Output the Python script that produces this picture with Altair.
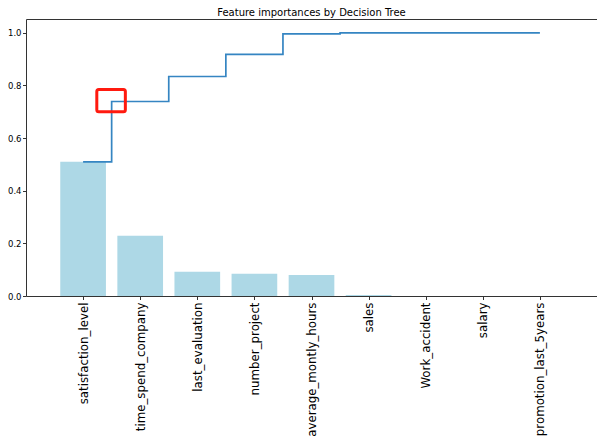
import json
import altair as alt
import pandas as pd

title_text = "Feature importances by Decision Tree"
features = [
    "satisfaction_level",
    "time_spend_company",
    "last_evaluation",
    "number_project",
    "average_montly_hours",
    "sales",
    "Work_accident",
    "salary",
    "promotion_last_5years",
]
importances = [0.510, 0.229, 0.092, 0.085, 0.080, 0.004, 0.0, 0.0, 0.0]
cumulative = [0.510, 0.739, 0.834, 0.918, 0.996, 1.000, 1.000, 1.000, 1.000]
positions = list(range(len(features)))
y_ticks = [0.0, 0.2, 0.4, 0.6, 0.8, 1.0]

# highlighted region (data coordinates) of the red box annotation
box_x = [0.24]
box_x2 = [0.74]
box_y = [0.70]
box_y2 = [0.785]

df = pd.DataFrame({
    "pos": positions,
    "feature": features,
    "importance": importances,
    "cumulative": cumulative,
})
box_df = pd.DataFrame({"x": box_x, "x2": box_x2, "y": box_y, "y2": box_y2})
title_df = pd.DataFrame({"t": [title_text]})

W = 571
H = 277

x_scale = alt.Scale(domain=[-1, 9], nice=False, zero=False)
y_scale = alt.Scale(domain=[0, 1.0525], nice=False, zero=False)

x_axis = alt.Axis(
    values=positions,
    labelExpr=f"{json.dumps(features)}[datum.value]",
    labelAngle=-90,
    labelFontSize=11.8,
    labelFont="DejaVu Sans",
    labelColor="#000",
    tickColor="#333",
    tickSize=3.5,
    labelPadding=2.5,
    labelOverlap=False,
    labelFlush=False,
    labelBound=False,
    grid=False,
    domain=False,
    title=None,
)
y_axis = alt.Axis(
    values=y_ticks,
    format=".1f",
    labelFontSize=8.5,
    labelFont="DejaVu Sans",
    labelColor="#000",
    tickColor="#333",
    tickSize=3.5,
    labelPadding=1.5,
    labelOverlap=False,
    labelFlush=False,
    labelBound=False,
    grid=False,
    domain=False,
    title=None,
)

bars = alt.Chart(df).transform_calculate(
    x0="datum.pos - 0.4", x1="datum.pos + 0.4"
).mark_bar(color="#add8e6").encode(
    x=alt.X("x0:Q", scale=x_scale, axis=x_axis),
    x2="x1:Q",
    y=alt.Y("importance:Q", scale=y_scale, axis=y_axis),
    y2=alt.datum(0),
)

line = alt.Chart(df).mark_line(
    interpolate="step", color="#3585c2", strokeWidth=1.7
).encode(
    x=alt.X("pos:Q", scale=x_scale),
    y=alt.Y("cumulative:Q", scale=y_scale),
)

box = alt.Chart(box_df).mark_rect(
    filled=False, stroke="#ff1a0f", strokeWidth=3, cornerRadius=2
).encode(
    x=alt.X("x:Q", scale=x_scale),
    x2="x2:Q",
    y=alt.Y("y:Q", scale=y_scale),
    y2="y2:Q",
)

title = alt.Chart(title_df).mark_text(
    font="DejaVu Sans", fontSize=10, color="#000", align="center", baseline="alphabetic"
).encode(
    x=alt.value(W / 2),
    y=alt.value(-3),
    text="t:N",
)

chart = alt.layer(bars, line, box, title).properties(
    width=W,
    height=H,
    padding={"left": 18, "top": 11, "right": 0, "bottom": 143},
    autosize=alt.AutoSizeParams(type="none"),
).configure_view(stroke="#333", strokeWidth=1)

chart.save("out.html", embed_options={"renderer": "svg", "actions": False})
